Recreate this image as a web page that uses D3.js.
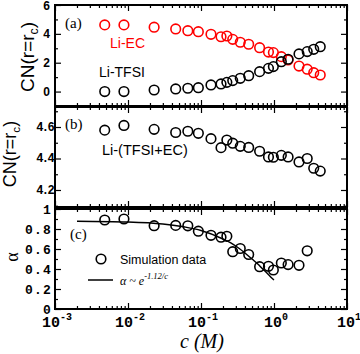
<!DOCTYPE html>
<html>
<head>
<meta charset="utf-8">
<script src="https://cdn.jsdelivr.net/npm/d3@7"></script>
<style>
  body { margin: 0; background: #fff; }
  svg { display: block; }
</style>
</head>
<body>
<div id="chart"></div>
<script>
// salt concentration c (M) of the simulated systems
var conc = [0.0048, 0.0088, 0.0228, 0.045, 0.066, 0.092, 0.137, 0.188, 0.226, 0.272, 0.345,
            0.45, 0.635, 0.84, 0.98, 1.26, 1.56, 2.2, 2.85, 3.5, 4.3];
// (a) coordination numbers
var cnEC   = [4.62, 4.62, 4.46, 4.34, 4.22, 4.15, 3.97, 3.80, 3.85, 3.62, 3.42,
              3.28, 3.04, 2.74, 2.70, 2.42, 2.19, 1.77, 1.55, 1.31, 1.15];
var cnTFSI = [0.0, 0.0, 0.11, 0.18, 0.23, 0.27, 0.46, 0.53, 0.64, 0.76, 0.92,
              1.10, 1.38, 1.61, 1.73, 2.07, 2.24, 2.61, 2.77, 2.93, 3.11];
// (b) total coordination number
var cnTotal = [4.58, 4.61, 4.585, 4.565, 4.573, 4.56, 4.526, 4.469, 4.517, 4.497, 4.477,
               4.47, 4.446, 4.41, 4.408, 4.42, 4.41, 4.378, 4.40, 4.338, 4.32];
// (c) alpha, simulation data
var concAlpha = [0.0048, 0.0088, 0.0228, 0.045, 0.066, 0.092, 0.137, 0.188, 0.226, 0.272,
                 0.345, 0.45, 0.635, 0.84, 0.98, 1.26, 1.56, 2.2, 2.85];
var alpha = [0.89, 0.90, 0.833, 0.836, 0.832, 0.778, 0.737, 0.718, 0.727, 0.573,
             0.605, 0.545, 0.423, 0.427, 0.39, 0.46, 0.444, 0.437, 0.582];
// (c) fitted curve
var fitConc  = [0.002, 0.01, 0.03, 0.06, 0.1, 0.2, 0.3, 0.4, 0.5, 0.6, 0.7, 0.8, 0.9, 1.0];
var fitAlpha = [0.878, 0.870, 0.850, 0.820, 0.785, 0.70, 0.63, 0.56, 0.50, 0.45, 0.40, 0.36, 0.32, 0.29];

var decades = [1e-3, 1e-2, 1e-1, 1, 10];
var decadeExp = ["-3", "-2", "-1", "0", "1"];

var width = 360, height = 354;
var left = 55, right = 347;

var svg = d3.select("#chart").append("svg")
    .attr("width", width)
    .attr("height", height);

var x = d3.scaleLog().domain([1e-3, 10]).range([left, right]);
var minorX = x.ticks().filter(function(d) { return decades.indexOf(d) < 0; });

var panels = [
    { top: 5,   bottom: 106, domain: [-1, 6],        major: [0, 2, 4, 6], minor: [-1, 1, 3, 5] },
    { top: 107, bottom: 207, domain: [4.092, 4.727], major: [4.2, 4.4, 4.6], minor: [4.1, 4.3, 4.5, 4.7] },
    { top: 209, bottom: 309, domain: [0, 1],         major: [0, 0.2, 0.4, 0.6, 0.8, 1], minor: [0.1, 0.3, 0.5, 0.7, 0.9] }
];

panels.forEach(function(p) {
    p.y = d3.scaleLinear().domain(p.domain).range([p.bottom, p.top]);
    var g = svg.append("g");

    // inward ticks on all four sides
    function addAxis(axis, tx, ty) {
        var a = g.append("g").attr("transform", "translate(" + tx + "," + ty + ")").call(axis);
        a.select(".domain").remove();
        a.selectAll("line").attr("stroke", "#000").attr("stroke-width", 1.2);
        a.selectAll("text").remove();
    }
    addAxis(d3.axisBottom(x).tickValues(decades).tickSize(-6), 0, p.bottom);
    addAxis(d3.axisBottom(x).tickValues(minorX).tickSize(-3), 0, p.bottom);
    addAxis(d3.axisTop(x).tickValues(decades).tickSize(-6), 0, p.top);
    addAxis(d3.axisTop(x).tickValues(minorX).tickSize(-3), 0, p.top);
    addAxis(d3.axisLeft(p.y).tickValues(p.major).tickSize(-6), left, 0);
    addAxis(d3.axisLeft(p.y).tickValues(p.minor).tickSize(-3), left, 0);
    addAxis(d3.axisRight(p.y).tickValues(p.major).tickSize(-6), right, 0);
    addAxis(d3.axisRight(p.y).tickValues(p.minor).tickSize(-3), right, 0);

    g.append("rect")
        .attr("x", left).attr("y", p.top)
        .attr("width", right - left).attr("height", p.bottom - p.top)
        .attr("fill", "none").attr("stroke", "#000").attr("stroke-width", 2);
});

var pa = panels[0], pb = panels[1], pc = panels[2];

// y tick labels
svg.append("g").selectAll("text").data(pa.major).enter().append("text")
    .attr("x", 50).attr("y", function(d) { return pa.y(d) + 4.5; })
    .attr("text-anchor", "end")
    .style("font", "bold 12px 'Liberation Sans', Arial, sans-serif")
    .text(function(d) { return d; });

svg.append("g").selectAll("text").data(pb.major).enter().append("text")
    .attr("x", 53).attr("y", function(d) { return pb.y(d) + 4; })
    .attr("text-anchor", "end")
    .style("font", "bold 12px 'Liberation Mono', monospace")
    .style("letter-spacing", "-1.6px")
    .text(function(d) { return d.toFixed(1); });

svg.append("g").selectAll("text").data(pc.major).enter().append("text")
    .attr("x", 52).attr("y", function(d) { return pc.y(d) + 4.5; })
    .attr("text-anchor", "end")
    .style("font", "bold 13px 'Liberation Mono', monospace")
    .style("letter-spacing", "1.2px")
    .text(function(d) { return (d === 0 || d === 1) ? String(d) : d.toFixed(1); });

// x tick labels
var xl = svg.append("g").selectAll("text").data(decades).enter().append("text")
    .attr("x", function(d) { return x(d) + 2; })
    .attr("y", 327)
    .attr("text-anchor", "middle")
    .style("font", "bold 15px 'Liberation Mono', monospace");
xl.append("tspan").text("10");
xl.append("tspan").attr("dy", -7).style("font-size", "10px")
    .text(function(d, i) { return decadeExp[i]; });

// axis titles
function cnTitle(tx, ty, size) {
    var t = svg.append("text")
        .attr("transform", "translate(" + tx + "," + ty + ") rotate(-90)")
        .attr("text-anchor", "middle")
        .style("font", size + "px 'Liberation Sans', Arial, sans-serif");
    t.append("tspan").text("CN(r=r");
    t.append("tspan").attr("dy", 4).style("font-size", (size * 0.65) + "px").text("c");
    t.append("tspan").attr("dy", -4).text(")");
}
cnTitle(34, 57, 19);
cnTitle(16, 154, 18);

svg.append("text")
    .attr("transform", "translate(18,257) rotate(-90)")
    .attr("text-anchor", "middle")
    .style("font", "18px 'Liberation Serif', 'Times New Roman', serif")
    .text("\u03b1");

svg.append("text")
    .attr("x", 202).attr("y", 348)
    .attr("text-anchor", "middle")
    .style("font", "italic 20px 'Liberation Serif', 'Times New Roman', serif")
    .text("c (M)");

// panel labels
[["(a)", 65, 28], ["(b)", 65, 129], ["(c)", 70, 239]].forEach(function(l) {
    svg.append("text").attr("x", l[1]).attr("y", l[2])
        .style("font", "15px 'Liberation Serif', 'Times New Roman', serif")
        .text(l[0]);
});

svg.append("text").attr("x", 110).attr("y", 48).attr("fill", "#ff0000")
    .style("font", "14px 'Liberation Sans', Arial, sans-serif").text("Li-EC");
svg.append("text").attr("x", 99).attr("y", 77)
    .style("font", "14px 'Liberation Sans', Arial, sans-serif").text("Li-TFSI");
svg.append("text").attr("x", 102).attr("y", 155)
    .style("font", "14.5px 'Liberation Sans', Arial, sans-serif").text("Li-(TFSI+EC)");

// markers
function circles(xs, ys, yScale, color) {
    svg.append("g").selectAll("circle").data(xs).enter().append("circle")
        .attr("cx", function(d) { return x(d); })
        .attr("cy", function(d, i) { return yScale(ys[i]); })
        .attr("r", 4.8)
        .attr("fill", "none")
        .attr("stroke", color)
        .attr("stroke-width", 1.6);
}
circles(conc, cnEC, pa.y, "#ff0000");
circles(conc, cnTFSI, pa.y, "#000");
circles(conc, cnTotal, pb.y, "#000");

var line = d3.line()
    .x(function(d) { return x(d); })
    .y(function(d, i) { return pc.y(fitAlpha[i]); })
    .curve(d3.curveMonotoneX);
svg.append("path").datum(fitConc)
    .attr("d", line)
    .attr("fill", "none").attr("stroke", "#000").attr("stroke-width", 1.5);

circles(concAlpha, alpha, pc.y, "#000");

// legend in (c)
svg.append("circle").attr("cx", 101).attr("cy", 259).attr("r", 4.8)
    .attr("fill", "none").attr("stroke", "#000").attr("stroke-width", 1.6);
svg.append("text").attr("x", 120).attr("y", 264)
    .style("font", "12.5px 'Liberation Sans', Arial, sans-serif").text("Simulation data");
svg.append("line").attr("x1", 88).attr("x2", 113).attr("y1", 280).attr("y2", 280)
    .attr("stroke", "#000").attr("stroke-width", 1.5);
var fl = svg.append("text").attr("x", 120).attr("y", 285)
    .style("font", "italic 12px 'Liberation Serif', 'Times New Roman', serif");
fl.append("tspan").text("\u03b1 ~ e");
fl.append("tspan").attr("dy", -6).style("font-size", "8.5px").text("-1.12/c");
</script>
</body>
</html>
